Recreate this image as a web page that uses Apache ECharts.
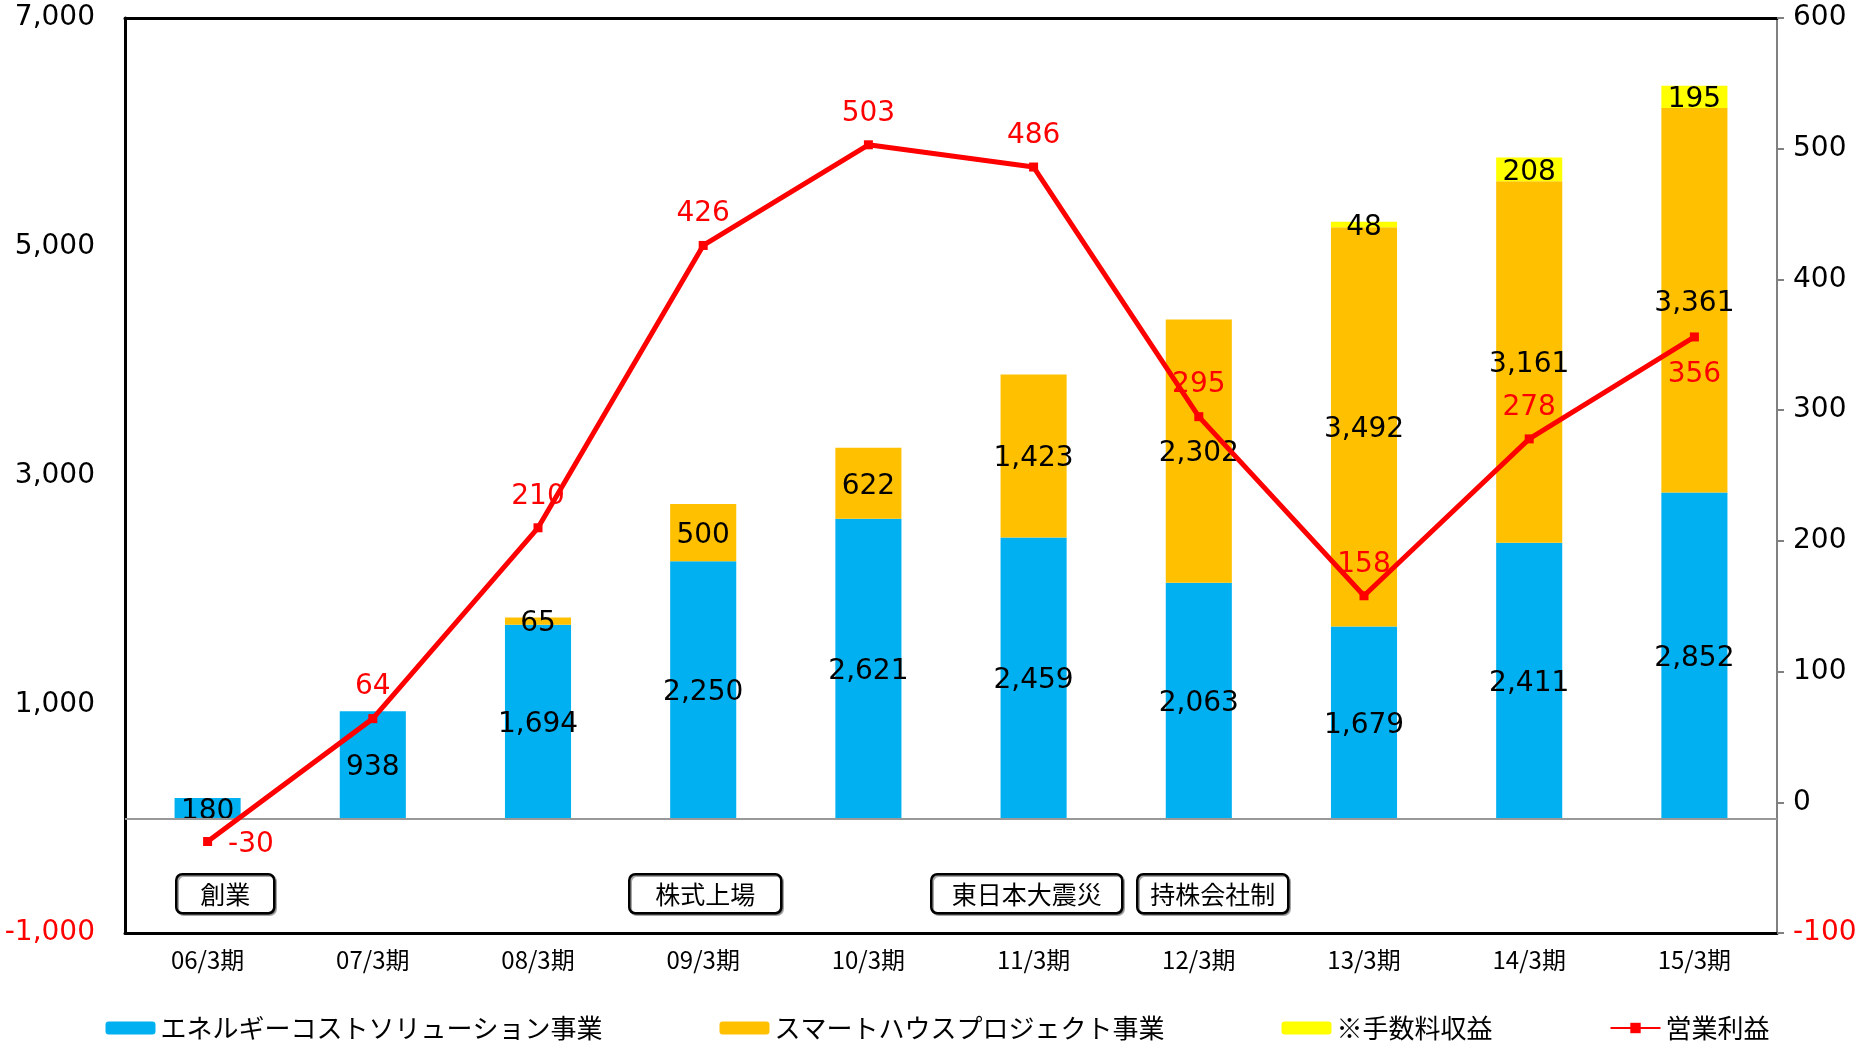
<!DOCTYPE html>
<html>
<head>
<meta charset="utf-8">
<script src="https://cdn.jsdelivr.net/npm/echarts@6/dist/echarts.min.js"></script>
<style>
html,body{margin:0;padding:0;background:#fff;}
#chart{width:1875px;height:1044px;}
</style>
</head>
<body>
<div id="chart"></div>
<script>
var categories = ['06/3期','07/3期','08/3期','09/3期','10/3期','11/3期','12/3期','13/3期','14/3期','15/3期'];
var energyCost = [180, 938, 1694, 2250, 2621, 2459, 2063, 1679, 2411, 2852];
var smartHouse = [0, 0, 65, 500, 622, 1423, 2302, 3492, 3161, 3361];
var feeRevenue = [0, 0, 0, 0, 0, 0, 0, 48, 208, 195];
var operatingProfit = [-30, 64, 210, 426, 503, 486, 295, 158, 278, 356];
var seriesNames = ['エネルギーコストソリューション事業','スマートハウスプロジェクト事業','※手数料収益','営業利益'];
var leftTicks = [-1000, 7000, 2000];
var rightTicks = [-100, 600, 100];
var events = ['創業','株式上場','東日本大震災','持株会社制'];

var FONT = '"Noto Sans CJK JP", "Noto Sans", sans-serif';
var NUMFONT = '"DejaVu Sans", "Noto Sans", sans-serif';
var fmt = function (v) { return v === 0 ? '' : Number(v).toLocaleString('en-US'); };

var profitLabelPos = {0: 'right', 9: 'bottom'};
var profitData = operatingProfit.map(function (v, i) {
  var p = profitLabelPos[i];
  return p ? {value: v, label: {position: p}} : v;
});

var barLabel = {
  show: true, position: 'inside', color: '#000', fontSize: 28, fontFamily: NUMFONT,
  offset: [0, 3],
  formatter: function (p) { return fmt(p.value); }
};

var chart = echarts.init(document.getElementById('chart'));

// annotation boxes (layout only)
var boxLayout = [
  {x: 175, w: 98},
  {x: 628, w: 152},
  {x: 930, w: 191},
  {x: 1136, w: 151}
];
var graphics = [];
events.forEach(function (t, i) {
  var b = boxLayout[i];
  graphics.push({
    type: 'group', left: b.x, top: 873,
    children: [
      {type: 'rect', shape: {x: 0, y: 0, width: b.w, height: 39, r: 6},
       style: {fill: '#fff', stroke: '#000', lineWidth: 2.5, shadowColor: 'rgba(0,0,0,0.35)', shadowOffsetX: 1.5, shadowOffsetY: 1.5}},
      {type: 'text', style: {text: t, x: b.w / 2, y: 20, align: 'center', verticalAlign: 'middle', fontSize: 25, fontFamily: FONT, fill: '#000'}}
    ]
  });
});

chart.setOption({
  animation: false,
  backgroundColor: '#fff',
  textStyle: {fontFamily: FONT},
  grid: {left: 125, right: 98, top: 18, bottom: 111, containLabel: false},
  legend: {
    bottom: -2, left: 'center', itemGap: 117, itemWidth: 50, itemHeight: 13,
    textStyle: {fontSize: 26, fontFamily: FONT, color: '#000'},
    data: seriesNames
  },
  graphic: graphics,
  xAxis: [
    {
      type: 'category', data: categories, position: 'bottom',
      axisLine: {show: true, onZero: false, lineStyle: {color: '#000', width: 3}},
      axisTick: {show: false},
      axisLabel: {fontSize: 24, color: '#000', margin: 15, fontFamily: FONT}
    },
    {
      type: 'category', data: categories, position: 'top',
      axisLine: {show: true, onZero: false, lineStyle: {color: '#000', width: 3}},
      axisTick: {show: false}, axisLabel: {show: false}
    }
  ],
  yAxis: [
    {
      type: 'value', position: 'left', min: leftTicks[0], max: leftTicks[1], interval: leftTicks[2],
      axisLine: {show: true, onZero: false, lineStyle: {color: '#000', width: 3}},
      axisTick: {show: false},
      splitLine: {show: false},
      axisLabel: {
        fontSize: 28, margin: 30, fontFamily: NUMFONT, padding: [6, 0, 0, 0],
        color: function (v) { return Number(v) < 0 ? '#ff0000' : '#000'; },
        formatter: function (v) { return Number(v).toLocaleString('en-US'); }
      }
    },
    {
      type: 'value', position: 'right', min: rightTicks[0], max: rightTicks[1], interval: rightTicks[2],
      axisLine: {show: true, onZero: false, lineStyle: {color: '#808080', width: 2}},
      axisTick: {show: true, length: 7, lineStyle: {color: '#808080', width: 2}},
      splitLine: {show: false},
      axisLabel: {
        fontSize: 28, margin: 16, fontFamily: NUMFONT, padding: [6, 0, 0, 0],
        color: function (v) { return Number(v) < 0 ? '#ff0000' : '#000'; }
      }
    }
  ],
  series: [
    {
      name: seriesNames[0], type: 'bar', stack: 'sales', barWidth: '40%',
      itemStyle: {color: '#00B0F0'}, label: barLabel, data: energyCost,
      markLine: {
        silent: true, symbol: 'none', label: {show: false},
        lineStyle: {color: '#999999', width: 2, type: 'solid'},
        data: [{yAxis: 0}]
      }
    },
    {
      name: seriesNames[1], type: 'bar', stack: 'sales',
      itemStyle: {color: '#FFC000'}, label: barLabel, data: smartHouse
    },
    {
      name: seriesNames[2], type: 'bar', stack: 'sales',
      itemStyle: {color: '#FFFF00'}, label: barLabel, data: feeRevenue
    },
    {
      name: seriesNames[3], type: 'line', yAxisIndex: 1, z: 5,
      symbol: 'rect', symbolSize: 9, showAllSymbol: true,
      lineStyle: {color: '#FF0000', width: 5},
      itemStyle: {color: '#FF0000'},
      label: {show: true, position: 'top', distance: 16, offset: [0, 3], color: '#FF0000', fontSize: 28, fontFamily: NUMFONT},
      data: profitData
    }
  ]
});
</script>
</body>
</html>
